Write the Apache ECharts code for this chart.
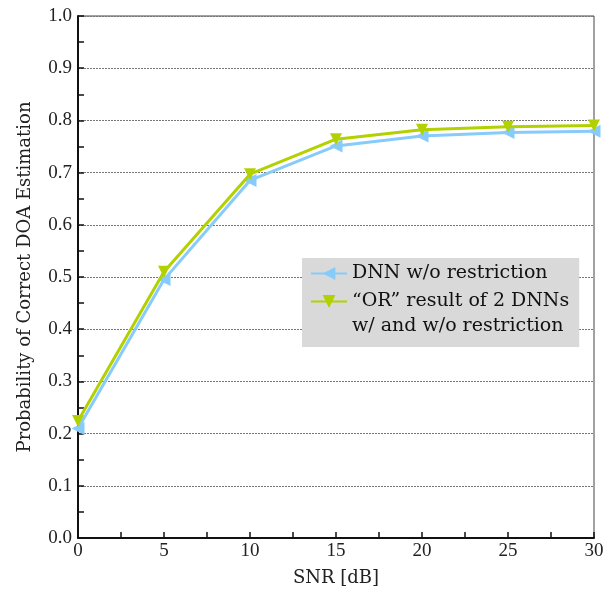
<!DOCTYPE html>
<html><head><meta charset="utf-8">
<script src="https://cdn.jsdelivr.net/npm/echarts@6/dist/echarts.min.js"></script>
<style>html,body{margin:0;padding:0;background:#fff}#c{width:616px;height:598px}</style>
</head><body><div id="c"></div>
<script>
var snr = [0, 5, 10, 15, 20, 25, 30];
var dnnNoRestriction = [0.210, 0.495, 0.685, 0.751, 0.770, 0.777, 0.779];
var orResult = [0.224, 0.510, 0.697, 0.764, 0.782, 0.788, 0.790];
var seriesNames = ['DNN w/o restriction', '\u201cOR\u201d result of 2 DNNs\nw/ and w/o restriction'];
var xTitle = 'SNR [dB]';
var yTitle = 'Probability of Correct DOA Estimation';

var numFont = 'Liberation Serif, serif';
var txtFont = 'DejaVu Serif, serif';
var chart = echarts.init(document.getElementById('c'));
function pts(ys){ return snr.map(function(x,i){ return [x, ys[i]]; }); }
chart.setOption({
  animation: false,
  backgroundColor: '#fff',
  grid: { left: 78, right: 22, top: 16, bottom: 60, show: true, borderColor: '#444', borderWidth: 1 },
  xAxis: {
    type: 'value', min: 0, max: 30, interval: 5,
    name: xTitle, nameLocation: 'middle', nameGap: 31,
    nameTextStyle: { fontFamily: txtFont, fontSize: 18, color: '#222' },
    axisLine: { show: true, onZero: false, lineStyle: { color: '#111', width: 2 } },
    axisTick: { show: true, inside: true, length: 6, lineStyle: { color: '#111', width: 1.5 } },
    minorTick: { show: true, splitNumber: 2, length: 6, lineStyle: { color: '#111', width: 1.5 } },
    axisLabel: { fontFamily: numFont, fontSize: 19, color: '#222', margin: 4 },
    splitLine: { show: false }
  },
  yAxis: {
    type: 'value', min: 0, max: 1, interval: 0.1,
    name: yTitle, nameLocation: 'middle', nameGap: 44,
    nameTextStyle: { fontFamily: txtFont, fontSize: 18, color: '#222' },
    axisLine: { show: true, onZero: false, lineStyle: { color: '#111', width: 2 } },
    axisTick: { show: true, inside: true, length: 6, lineStyle: { color: '#111', width: 1.5 } },
    minorTick: { show: true, splitNumber: 2, length: 6, lineStyle: { color: '#111', width: 1.5 } },
    axisLabel: { fontFamily: numFont, fontSize: 19, color: '#222', margin: 6, formatter: function(v){ return v.toFixed(1); } },
    splitLine: { show: true, lineStyle: { color: '#777', type: [2, 1], width: 1 } }
  },
  legend: {
    orient: 'vertical', left: 302, top: 258,
    backgroundColor: '#d9d9d9', padding: [4, 10, 34, 8], itemGap: 5,
    itemWidth: 36, itemHeight: 16,
    textStyle: { fontFamily: txtFont, fontSize: 19, color: '#111', lineHeight: 23 },
    formatter: function(name){ return name.split('\n')[0]; },
    data: [seriesNames[0], seriesNames[1]]
  },
  graphic: [{
    type: 'text', left: 352, top: 317, z: 100,
    style: { text: seriesNames[1].split('\n')[1], font: '19px ' + txtFont, fill: '#111' }
  }],
  series: [
    { name: seriesNames[0], type: 'line', data: pts(dnnNoRestriction),
      color: '#87cbfb', lineStyle: { width: 3, color: '#87cbfb' },
      symbol: 'triangle', symbolRotate: 90, symbolSize: 13,
      itemStyle: { color: '#87cbfb' }, z: 3 },
    { name: seriesNames[1], type: 'line', data: pts(orResult),
      color: '#b3d100', lineStyle: { width: 3, color: '#b3d100' },
      symbol: 'triangle', symbolRotate: 180, symbolSize: 12,
      itemStyle: { color: '#b3d100' }, z: 4 }
  ]
});
</script></body></html>
